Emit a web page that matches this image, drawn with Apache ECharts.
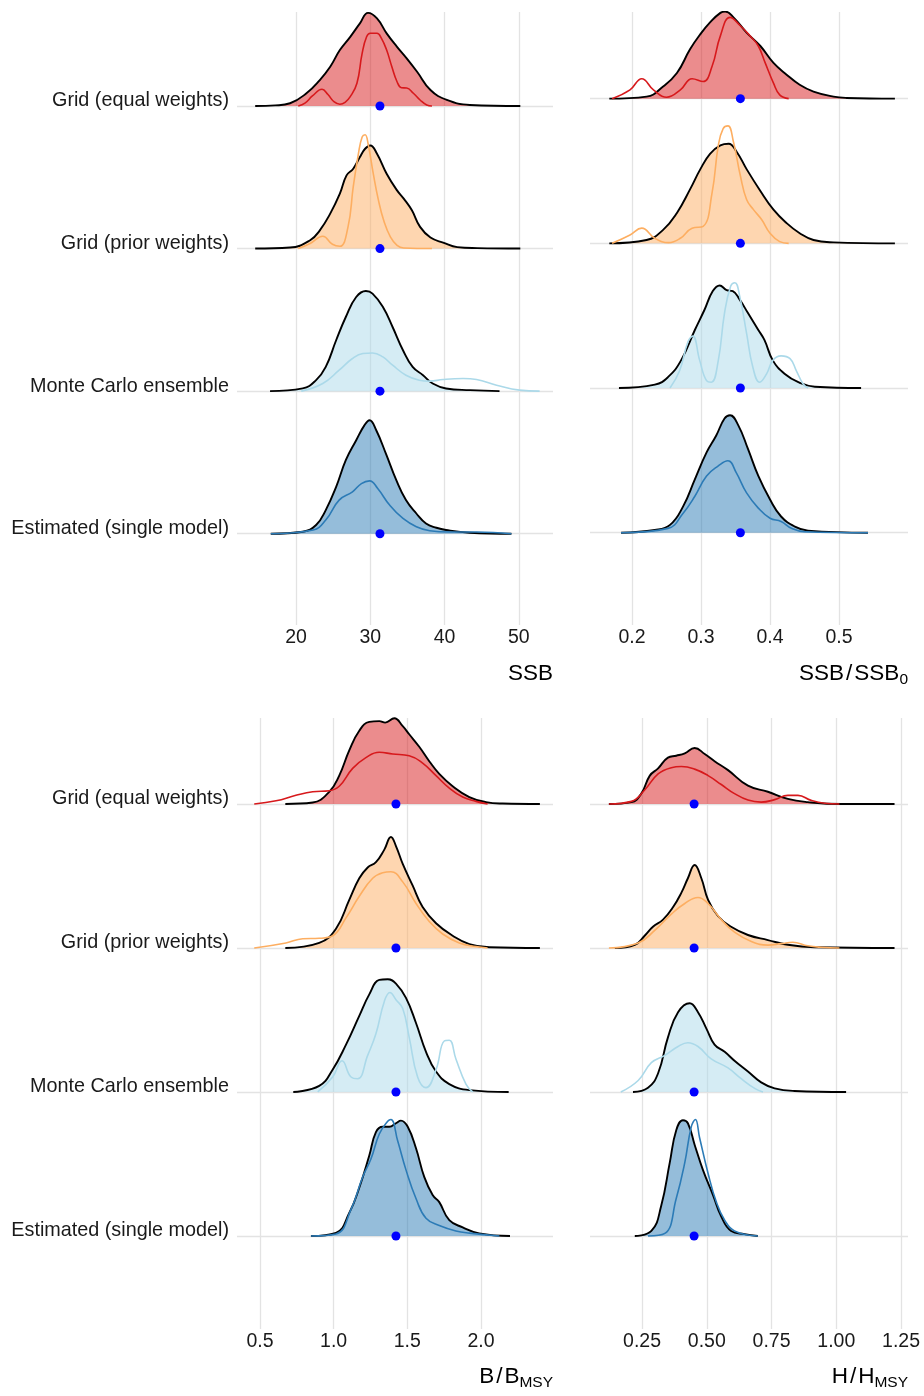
<!DOCTYPE html>
<html>
<head>
<meta charset="utf-8">
<script src="https://cdn.jsdelivr.net/npm/echarts@6.0.0/dist/echarts.min.js"></script>
<style>
  html, body { margin: 0; padding: 0; background: #fff; }
  #chart { width: 924px; height: 1396px; }
</style>
</head>
<body>
<div id="chart"></div>
<script>
// ridge order, bottom to top
const categories = ['Estimated (single model)', 'Monte Carlo ensemble', 'Grid (prior weights)', 'Grid (equal weights)'];
const ridgeColors = ['#2C7BB6', '#ABD9E9', '#FDAE61', '#D7191C'];

// blue dot per panel (SSB, SSB/SSB0, B/BMSY, H/HMSY)
const trueValues = [31.3, 0.357, 1.423, 0.451];

const ssbTicks = [20, 30, 40, 50];
const ssbRelTicks = [0.2, 0.3, 0.4, 0.5];
const bTicks = [0.5, 1.0, 1.5, 2.0];
const hTicks = [0.25, 0.5, 0.75, 1.0, 1.25];

// densities: [x, height in % of ridge spacing]
// "Fill" = filled ridge with black outline, "Line" = coloured density line
const ssbEqualFill = [[14.5,0],[17.2,0.4],[19.2,1.9],[21.4,8.9],[23.2,18.2],[24.6,27.5],[25.9,39.2],[27.3,48.5],[28.6,57.9],[29.7,65.3],[30.9,61.4],[32.2,50.9],[33.6,41.5],[34.9,33.4],[36.3,24],[38.1,11.2],[40.3,4.2],[43.4,0.7],[50.2,0]];
const ssbEqualLine = [[20.3,0],[21.2,2],[22.2,7],[23.5,11.7],[24.3,8],[25.1,3],[25.9,1.2],[26.6,2.5],[27.3,6.5],[28.2,15.9],[28.9,36.9],[29.5,48.5],[30.0,51],[30.9,51],[31.5,47.4],[32.2,39.2],[32.9,27.5],[33.6,17],[34.2,12.8],[34.9,12.6],[35.8,8.9],[36.7,4.2],[37.6,0.7],[38.3,0]];
const ssbPriorFill = [[14.5,0],[19.2,0.7],[21.9,5.8],[23.2,12.8],[24.6,24.5],[25.9,38.5],[26.8,51.3],[27.7,56],[28.6,64.2],[29.3,70],[30.0,72.3],[30.9,66.5],[32.2,52.5],[33.6,40.8],[34.5,35],[35.6,26.8],[36.7,15.2],[38.1,7.7],[39.9,4],[41.7,1],[44.4,0.3],[50.2,0]];
const ssbPriorLine = [[20.3,0],[21.9,3.5],[23.6,8.6],[24.9,3],[25.9,1.6],[27.0,15.2],[27.7,43.2],[28.4,66.5],[28.9,78.2],[29.3,79.8],[29.7,73.5],[30.4,52.5],[31.1,33.8],[31.8,19.8],[32.7,8.2],[33.6,2.3],[34.5,0.4],[38.3,0]];
const ssbMcFill = [[16.5,0],[20.9,1.9],[22.7,7.7],[24.0,17],[25.4,35.7],[26.7,52],[28.1,66],[29.4,70.2],[30.3,68.4],[31.7,59],[33.0,45],[34.4,28.7],[35.7,17],[37.1,11.2],[38.4,5.4],[40.2,1.9],[43.4,0.7],[47.4,0]];
const ssbMcLine = [[20.7,0],[23.6,5.4],[25.8,14.7],[27.6,22.9],[29.0,26.4],[30.3,26.8],[31.7,24],[33.0,18.2],[34.8,11.2],[36.6,7.7],[38.0,7],[39.8,8.2],[42.5,8.9],[44.3,8.2],[47.0,4.2],[50.1,0.7],[52.8,0]];
const ssbEstFill = [[16.6,0],[20.9,1.4],[22.7,6.1],[24.0,16.6],[25.4,32.9],[26.7,51.6],[28.1,65.6],[29.2,76],[29.9,79.6],[30.8,72.6],[32.1,56.2],[33.5,37.6],[34.8,23.6],[36.2,14.2],[37.5,7.2],[38.9,4.2],[40.2,2.6],[43.4,0.7],[49.0,0]];
const ssbEstLine = [[16.6,0],[22.3,2.6],[24.0,9.6],[25.8,23.6],[27.6,29.4],[28.8,35.2],[29.9,37.1],[31.0,31.7],[32.6,20.1],[34.4,10.7],[36.2,4.9],[38.0,2.1],[40.7,1.2],[44.3,1.2],[49.0,0]];

const relEqualFill = [[0.167,0],[0.221,1.4],[0.245,8.4],[0.265,17.7],[0.284,34.1],[0.299,44.6],[0.313,52.7],[0.328,59.3],[0.335,60.2],[0.347,56.2],[0.366,45.7],[0.386,36.4],[0.405,24.7],[0.424,16.6],[0.443,9.6],[0.463,4.9],[0.492,1.4],[0.511,0.5],[0.581,0]];
const relEqualLine = [[0.171,0],[0.197,6.1],[0.214,13.8],[0.231,6.1],[0.250,1],[0.270,6.1],[0.287,13.8],[0.303,11.9],[0.316,22.4],[0.328,43.4],[0.342,56.2],[0.357,50.4],[0.371,43.4],[0.383,36.4],[0.393,24.7],[0.405,10.7],[0.414,2.6],[0.427,0]];
const relPriorFill = [[0.167,0],[0.221,2.3],[0.245,9.3],[0.265,21],[0.284,37.3],[0.299,51.3],[0.313,61.8],[0.328,67.7],[0.340,68.8],[0.352,63],[0.366,51.3],[0.386,36.2],[0.405,23.3],[0.424,14],[0.443,7],[0.463,2.3],[0.492,0.7],[0.581,0]];
const relPriorLine = [[0.171,0],[0.197,5.8],[0.214,10.5],[0.233,3.5],[0.253,0.5],[0.270,3.5],[0.287,10.5],[0.303,11.7],[0.316,35],[0.325,67.7],[0.332,79.3],[0.339,81.2],[0.347,70],[0.357,46.7],[0.366,30.3],[0.376,23.3],[0.388,16.3],[0.400,7],[0.414,1.2],[0.427,0]];
const relMcFill = [[0.181,0],[0.233,2.3],[0.252,7.5],[0.271,19.1],[0.291,40.1],[0.305,54.1],[0.317,67],[0.327,70.9],[0.337,67.7],[0.346,67],[0.356,61.1],[0.368,51.8],[0.383,40.1],[0.392,33.1],[0.404,19.1],[0.421,9.8],[0.441,4],[0.465,0.9],[0.532,0]];
const relMcLine = [[0.255,0],[0.269,12.1],[0.281,32],[0.288,35.9],[0.298,19.1],[0.308,5.1],[0.315,4],[0.325,19.1],[0.334,51.8],[0.343,70.5],[0.349,72.8],[0.356,63.5],[0.366,37.8],[0.375,14.5],[0.385,4],[0.395,9.8],[0.404,19.1],[0.416,22.2],[0.429,20.3],[0.438,12.1],[0.448,2.8],[0.455,0]];
const relEstFill = [[0.184,0],[0.233,1.9],[0.255,5.4],[0.274,18.2],[0.291,36.9],[0.308,55.5],[0.322,67.2],[0.334,78.9],[0.342,81.2],[0.354,74.2],[0.368,57.9],[0.383,39.2],[0.400,22.9],[0.416,11.2],[0.436,4.2],[0.455,1.4],[0.542,0]];
const relEstLine = [[0.184,0],[0.252,3],[0.274,13.5],[0.291,25.2],[0.308,39.2],[0.325,46.2],[0.339,49.7],[0.351,41.5],[0.366,27.5],[0.383,17],[0.400,10],[0.416,7.7],[0.431,3],[0.450,0.7],[0.542,0]];

const bEqualFill = [[0.672,0],[0.858,1],[0.970,8.4],[1.038,19.7],[1.106,37.2],[1.174,50.9],[1.242,57],[1.310,57.5],[1.350,56.5],[1.412,59.5],[1.469,54],[1.513,48.4],[1.581,39.7],[1.649,29.7],[1.717,20.9],[1.808,12.3],[1.921,4.8],[2.034,1.3],[2.147,0.3],[2.40,0]];
const bEqualLine = [[0.461,0],[0.609,2.2],[0.744,6],[0.858,8.5],[0.970,9.2],[1.038,12.3],[1.129,24.7],[1.219,32.2],[1.310,35.9],[1.401,34.7],[1.513,33.5],[1.604,28.4],[1.695,19.7],[1.785,11],[1.876,4.8],[1.966,1.8],[2.045,0]];
const bPriorFill = [[0.672,0],[0.902,3.5],[1.016,13.4],[1.106,33.4],[1.174,48.4],[1.231,55.9],[1.287,59.6],[1.344,68.3],[1.389,77.1],[1.423,70.8],[1.469,58.4],[1.536,43.4],[1.604,28.4],[1.695,17.2],[1.808,8.5],[1.921,2.7],[2.056,0.5],[2.40,0]];
const bPriorLine = [[0.461,0],[0.676,3.5],[0.790,6.4],[0.902,6.7],[0.993,8.5],[1.084,20.9],[1.174,35.9],[1.265,48.4],[1.333,52.2],[1.389,52.9],[1.469,45.9],[1.559,30.9],[1.649,18.4],[1.740,9.7],[1.853,3.5],[1.966,1],[2.045,0]];
const bMcFill = [[0.726,0],[0.902,4.2],[0.993,15.5],[1.084,32.9],[1.174,52.9],[1.242,67.8],[1.310,77.8],[1.367,78.3],[1.423,75.3],[1.491,65.3],[1.559,47.9],[1.627,27.9],[1.695,14.2],[1.785,5.5],[1.921,1.3],[2.188,0]];
const bMcLine = [[0.892,0],[0.993,10.4],[1.057,21.7],[1.118,10.4],[1.163,9.2],[1.231,25.4],[1.287,40.4],[1.344,62.9],[1.382,69.1],[1.423,64.1],[1.469,57.9],[1.513,37.9],[1.570,10.4],[1.627,3],[1.695,15.5],[1.751,35.4],[1.785,35.9],[1.830,22.9],[1.898,5.5],[1.944,0]];
const bEstFill = [[0.846,0],[1.016,2.2],[1.106,16],[1.174,33.5],[1.242,55.9],[1.287,72.1],[1.333,75.8],[1.378,75.8],[1.423,78.3],[1.457,80.1],[1.503,75.8],[1.559,60.9],[1.615,41],[1.672,28.4],[1.717,23.5],[1.785,11],[1.876,6],[1.988,1.8],[2.197,0]];
const bEstLine = [[0.846,0],[1.016,1.4],[1.118,18.5],[1.197,41],[1.253,53.4],[1.310,70.8],[1.367,79.6],[1.389,80.9],[1.435,65.9],[1.491,45.9],[1.559,26],[1.627,12.3],[1.717,7.3],[1.830,3.5],[1.921,2],[2.125,0]];

const hEqualFill = [[0.122,0],[0.209,1.3],[0.247,7.2],[0.280,19.7],[0.312,24.7],[0.350,32.2],[0.382,33.5],[0.415,35.2],[0.453,38.9],[0.492,34.7],[0.530,29.7],[0.582,23.5],[0.659,12.7],[0.736,8.5],[0.813,3.5],[0.890,1.3],[1.019,0],[1.225,0]];
const hEqualLine = [[0.122,0],[0.209,1.8],[0.260,9.7],[0.312,20.9],[0.363,25.2],[0.402,26],[0.453,24.2],[0.505,19.7],[0.556,13.5],[0.607,7.2],[0.659,2.7],[0.710,1.3],[0.762,3],[0.813,6],[0.852,6],[0.903,2.5],[0.955,0.5],[1.012,0]];
const hPriorFill = [[0.145,0],[0.222,2.2],[0.260,8.5],[0.292,14.7],[0.331,19.7],[0.370,28.4],[0.402,38.4],[0.427,48.4],[0.453,57.6],[0.479,48.4],[0.505,33.4],[0.543,22.2],[0.594,14.7],[0.659,9],[0.736,5.5],[0.813,2.2],[0.916,0.5],[1.225,0]];
const hPriorLine = [[0.122,0],[0.235,3.5],[0.299,12.2],[0.363,23.5],[0.415,30.9],[0.466,35.1],[0.505,30.9],[0.556,19.7],[0.607,11],[0.672,4.5],[0.736,2],[0.787,3],[0.832,4],[0.890,1.5],[0.941,0.5],[1.012,0]];
const hMcFill = [[0.215,0],[0.273,3],[0.312,13],[0.350,37.9],[0.389,55.4],[0.434,61.6],[0.466,55.4],[0.498,44.2],[0.530,32.9],[0.569,27.9],[0.607,21.7],[0.659,14.2],[0.710,6.7],[0.762,2.5],[0.839,0.7],[1.038,0]];
const hMcLine = [[0.168,0],[0.235,8],[0.286,20.4],[0.338,25.4],[0.389,31.6],[0.427,34.2],[0.466,31.6],[0.517,23],[0.582,16.7],[0.633,9.2],[0.685,2.5],[0.717,0]];
const hEstFill = [[0.222,0],[0.286,3.5],[0.324,21],[0.357,50.9],[0.382,73.4],[0.408,80.4],[0.427,78.3],[0.453,63.4],[0.485,45.9],[0.524,28.4],[0.556,13.5],[0.594,3.5],[0.646,1.3],[0.697,0]];
const hEstLine = [[0.273,0],[0.338,1.8],[0.382,26],[0.415,50.9],[0.440,75.8],[0.456,80.9],[0.472,68.4],[0.505,43.4],[0.537,23.5],[0.569,11],[0.607,3.5],[0.697,0]];

const FONT = '"Liberation Sans", Arial, Helvetica, sans-serif';
const GRID_GREY = '#e3e3e3';

const panels = [
  { fills: [ssbEstFill, ssbMcFill, ssbPriorFill, ssbEqualFill],
    lines: [ssbEstLine, ssbMcLine, ssbPriorLine, ssbEqualLine],
    ticks: ssbTicks, digits: 0, xRange: [12.05, 54.6], yRange: [-0.64, 3.659],
    grid: { left: 237, top: 12, width: 316, height: 613 },
    title: { x: 553, y: 675, text: '{m|SSB}' } },
  { fills: [relEstFill, relMcFill, relPriorFill, relEqualFill],
    lines: [relEstLine, relMcLine, relPriorLine, relEqualLine],
    ticks: ssbRelTicks, digits: 1, xRange: [0.139, 0.6], yRange: [-0.638, 3.599],
    grid: { left: 590, top: 12, width: 318, height: 613 },
    title: { x: 908, y: 675, text: '{m|SSB}{sl|/}{m|SSB}{s|0}' } },
  { fills: [bEstFill, bMcFill, bPriorFill, bEqualFill],
    lines: [bEstLine, bMcLine, bPriorLine, bEqualLine],
    ticks: bTicks, digits: 1, xRange: [0.344, 2.489], yRange: [-0.646, 3.597],
    grid: { left: 237, top: 718, width: 316, height: 611 },
    title: { x: 553, y: 1378, text: '{m|B}{sl|/}{m|B}{s|MSY}' } },
  { fills: [hEstFill, hMcFill, hPriorFill, hEqualFill],
    lines: [hEstLine, hMcLine, hPriorLine, hEqualLine],
    ticks: hTicks, digits: 2, xRange: [0.049, 1.277], yRange: [-0.646, 3.597],
    grid: { left: 590, top: 718, width: 318, height: 611 },
    title: { x: 908, y: 1378, text: '{m|H}{sl|/}{m|H}{s|MSY}' } }
];

function fade(hex) {
  const n = parseInt(hex.slice(1), 16);
  return 'rgba(' + (n >> 16) + ',' + ((n >> 8) & 255) + ',' + (n & 255) + ',0.5)';
}

function ridge(gi, k, pts, color, filled) {
  return {
    type: 'line', xAxisIndex: gi, yAxisIndex: gi,
    data: pts.map(p => [p[0], k + p[1] / 100]),
    smooth: 0.45, showSymbol: false, silent: true,
    lineStyle: { color: filled ? '#000' : color, width: filled ? 1.9 : 1.6 },
    areaStyle: filled ? { color: fade(color), origin: k, opacity: 1 } : null,
    z: filled ? 3 : 4
  };
}

const grids = [], xAxes = [], yAxes = [], series = [], graphics = [];

panels.forEach((p, gi) => {
  grids.push(p.grid);
  xAxes.push({
    gridIndex: gi, type: 'value', min: p.xRange[0], max: p.xRange[1],
    axisLine: { show: false }, axisTick: { show: false }, splitLine: { show: false },
    axisLabel: { customValues: p.ticks, formatter: v => v.toFixed(p.digits),
      fontSize: 19.5, fontFamily: FONT, color: '#1a1a1a', margin: 3 }
  });
  yAxes.push({
    gridIndex: gi, type: 'value', min: p.yRange[0], max: p.yRange[1],
    axisLine: { show: false }, axisTick: { show: false }, splitLine: { show: false },
    axisLabel: { show: gi % 2 === 0, customValues: [0, 1, 2, 3],
      formatter: v => categories[Math.round(v)],
      fontSize: 19.8, fontFamily: FONT, color: '#1a1a1a', margin: 8,
      verticalAlign: 'bottom', lineHeight: 10 }
  });
  // light guide lines: x ticks and ridge baselines, kept under the ridges
  series.push({
    type: 'line', xAxisIndex: gi, yAxisIndex: gi, data: [], silent: true, z: 1,
    markLine: { z: 1, symbol: 'none', silent: true, animation: false, label: { show: false },
      lineStyle: { color: GRID_GREY, width: 1.3, type: 'solid' },
      data: p.ticks.map(v => ({ xAxis: v })).concat([0, 1, 2, 3].map(k => ({ yAxis: k }))) }
  });
  for (let k = 3; k >= 0; k--) {
    series.push(ridge(gi, k, p.fills[k], ridgeColors[k], true));
    series.push(ridge(gi, k, p.lines[k], ridgeColors[k], false));
  }
  series.push({
    type: 'scatter', xAxisIndex: gi, yAxisIndex: gi, silent: true, z: 6,
    data: [0, 1, 2, 3].map(k => [trueValues[gi], k]),
    symbolSize: 9, itemStyle: { color: '#0000ff', opacity: 1 }
  });
  graphics.push({
    type: 'text', x: p.title.x, y: p.title.y, silent: true,
    style: {
      text: p.title.text, align: 'right', verticalAlign: 'middle', fill: '#000', fontFamily: FONT,
      rich: {
        m: { fontSize: 22.5, fontFamily: FONT, fill: '#000', verticalAlign: 'bottom', padding: [0, 0, 2, 0] },
        sl: { fontSize: 22.5, fontFamily: FONT, fill: '#000', verticalAlign: 'bottom', padding: [0, 2, 2, 2] },
        s: { fontSize: 15.5, fontFamily: FONT, fill: '#000', verticalAlign: 'bottom' }
      }
    }
  });
});

const chart = echarts.init(document.getElementById('chart'));
chart.setOption({
  animation: false,
  backgroundColor: '#fff',
  textStyle: { fontFamily: FONT },
  grid: grids,
  xAxis: xAxes,
  yAxis: yAxes,
  series: series,
  graphic: graphics
});
</script>
</body>
</html>
